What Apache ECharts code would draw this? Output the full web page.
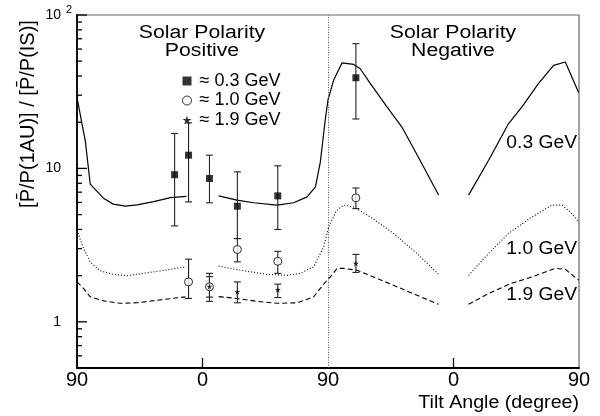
<!DOCTYPE html>
<html><head><meta charset="utf-8">
<script src="https://cdn.jsdelivr.net/npm/echarts@6/dist/echarts.min.js"></script>
<style>html,body{margin:0;padding:0;background:#fff}#c{width:600px;height:416px}</style>
</head><body><div id="c"></div>
<script>
// x axis runs 0..360 (tilt 90 -> 0 -> 90 | 90 -> 0 -> 90)
const xTickValues = [0, 90, 180, 270, 360];
const xTickLabels = ['90', '0', '90', '0', '90'];
const xInnerTicks = [90, 270];
const yMajorTicks = [1, 10, 100];
const yMinorTicks = [0.5, 0.6, 0.7, 0.8, 0.9, 2, 3, 4, 5, 6, 7, 8, 9, 20, 30, 40, 50, 60, 70, 80, 90];

// 0.3 GeV model curve (solid)
const c03_seg1_x = [0, 3.6, 6, 9.5, 19, 26, 34.6, 43, 55, 67, 78.5];
const c03_seg1_y = [29, 19.5, 15, 7.9, 6.4, 5.85, 5.67, 5.78, 6.08, 6.45, 6.58];
const c03_seg2_x = [101.6, 114.7, 126.6, 143.4, 155.4, 165, 171, 174.5, 178, 180, 184, 190, 198.4, 203, 210.3, 222.3, 233, 246, 259.3];
const c03_seg2_y = [6.62, 6.21, 5.97, 5.76, 5.97, 6.52, 7.57, 11, 20.6, 28, 37.5, 48.7, 47.6, 44.8, 35.8, 25.2, 18.6, 11.3, 6.7];
const c03_seg3_x = [280.8, 295.2, 309.5, 319.1, 331, 341.8, 350.2, 353.8, 359.7];
const c03_seg3_y = [6.7, 11.3, 19.6, 25.2, 35.8, 47, 49.4, 41.5, 31.3];

// 1.0 GeV model curve (dotted)
const c10_seg1_x = [0, 4.7, 9.5, 16.7, 26, 36, 47.7, 60, 78.4];
const c10_seg1_y = [3.96, 3.0, 2.46, 2.15, 2.04, 2.0, 2.07, 2.15, 2.28];
const c10_seg2_x = [101.6, 117, 136, 150.6, 160, 169.7, 176.9, 180.5, 186, 191.2, 198.4, 210.3, 227, 243.8, 259.3];
const c10_seg2_y = [2.31, 2.17, 2.04, 2.01, 2.07, 2.28, 3.08, 4.16, 5.3, 5.76, 5.6, 4.83, 3.77, 2.79, 2.04];
const c10_seg3_x = [280.8, 295.2, 309.5, 326.3, 340.6, 347.8, 353.8, 359.7];
const c10_seg3_y = [2.01, 2.79, 3.77, 4.83, 5.76, 5.76, 5.2, 4.48];

// 1.9 GeV model curve (dashed)
const c19_seg1_x = [0, 4.7, 9.5, 19, 31, 43, 57, 77.7];
const c19_seg1_y = [1.82, 1.65, 1.455, 1.37, 1.32, 1.33, 1.38, 1.455];
const c19_seg2_x = [101.6, 114.7, 129, 143.4, 157.8, 169.7, 174.5, 179.3, 181.7, 186.5, 191.2, 200.8, 212.7, 227, 243.8, 259.3];
const c19_seg2_y = [1.46, 1.42, 1.36, 1.32, 1.33, 1.455, 1.65, 1.87, 1.96, 2.23, 2.23, 2.17, 1.96, 1.73, 1.49, 1.30];
const c19_seg3_x = [280.8, 295.2, 311.2, 326.3, 343, 350.2, 359.7];
const c19_seg3_y = [1.30, 1.53, 1.78, 1.96, 2.23, 2.2, 1.87];

// measured points with error bars
const p03_x = [70, 80, 95, 115, 144, 200];
const p03_y = [9.1, 12.2, 8.6, 5.67, 6.62, 39];
const p03_lo = [4.22, 6.05, 5.97, 3.49, 4.0, 21];
const p03_hi = [16.9, 19.8, 12.2, 9.5, 10.4, 65];

const p10_x = [80, 95, 115, 144, 200];
const p10_y = [1.82, 1.69, 2.96, 2.48, 6.43];
const p10_lo = [1.42, 1.36, 2.46, 2.07, 5.47];
const p10_hi = [2.56, 2.07, 3.49, 2.88, 7.45];

const p19_x = [95, 115, 144, 200];
const p19_y = [1.70, 1.57, 1.62, 2.4];
const p19_lo = [1.45, 1.33, 1.44, 2.1];
const p19_hi = [1.97, 1.82, 1.76, 2.75];

const legendNames = ['\u2248 0.3 GeV', '\u2248 1.0 GeV', '\u2248 1.9 GeV'];
const curveLabels = ['0.3 GeV', '1.0 GeV', '1.9 GeV'];

const FONT = 'Liberation Sans, Arial, Helvetica, sans-serif';
const STAR = 'path://M50,0 L61,35 L98,35 L68,57 L79,91 L50,70 L21,91 L32,57 L2,35 L39,35 Z';

function zip(xs, ys) { return xs.map((x, i) => [x, ys[i]]); }
function zip3(xs, a, b) { return xs.map((x, i) => [x, a[i], b[i]]); }

function lineSeries(xs, ys, type) {
  return {
    type: 'line', data: zip(xs, ys), symbol: 'none', silent: true,
    lineStyle: { color: '#000', width: type === 'solid' ? 1.2 : 1.1, type: type },
    z: 2
  };
}

function errSeries(xs, lo, hi) {
  return {
    type: 'custom', data: zip3(xs, lo, hi), encode: { x: 0, y: [1, 2] }, silent: true, z: 3,
    renderItem: function (params, api) {
      const x = api.value(0);
      const p1 = api.coord([x, api.value(1)]);
      const p2 = api.coord([x, api.value(2)]);
      const w = 3.5;
      const st = { stroke: '#222', lineWidth: 1.1 };
      return {
        type: 'group', children: [
          { type: 'line', shape: { x1: p1[0], y1: p1[1], x2: p2[0], y2: p2[1] }, style: st },
          { type: 'line', shape: { x1: p1[0] - w, y1: p1[1], x2: p1[0] + w, y2: p1[1] }, style: st },
          { type: 'line', shape: { x1: p2[0] - w, y1: p2[1], x2: p2[0] + w, y2: p2[1] }, style: st }
        ]
      };
    }
  };
}

// inward axis ticks placed through the axes' own scales
const tickData = []
  .concat(yMajorTicks.map(v => [0, v, 0]))
  .concat(yMinorTicks.map(v => [0, v, 1]))
  .concat(xInnerTicks.map(v => [v, 0.5, 2]));

const tickSeries = {
  type: 'custom', data: tickData, encode: { x: 0, y: 1 }, silent: true, clip: false, z: 10,
  renderItem: function (params, api) {
    const cs = params.coordSys;
    const kind = api.value(2);
    const st = { stroke: '#000', lineWidth: 1.3 };
    if (kind < 2) {
      const p = api.coord([0, api.value(1)]);
      const L = kind === 0 ? 10 : 5;
      return { type: 'line', shape: { x1: cs.x, y1: p[1], x2: cs.x + L, y2: p[1] }, style: st };
    }
    const p = api.coord([api.value(0), 0.5]);
    return { type: 'line', shape: { x1: p[0], y1: cs.y + cs.height, x2: p[0], y2: cs.y + cs.height - 10 }, style: st };
  }
};

const chart = echarts.init(document.getElementById('c'), null, { renderer: 'canvas' });

const series = [
  lineSeries(c03_seg1_x, c03_seg1_y, 'solid'),
  lineSeries(c03_seg2_x, c03_seg2_y, 'solid'),
  lineSeries(c03_seg3_x, c03_seg3_y, 'solid'),
  lineSeries(c10_seg1_x, c10_seg1_y, [1, 2]),
  lineSeries(c10_seg2_x, c10_seg2_y, [1, 2]),
  lineSeries(c10_seg3_x, c10_seg3_y, [1, 2]),
  lineSeries(c19_seg1_x, c19_seg1_y, [5, 3]),
  lineSeries(c19_seg2_x, c19_seg2_y, [5, 3]),
  lineSeries(c19_seg3_x, c19_seg3_y, [5, 3]),
  errSeries(p03_x, p03_lo, p03_hi),
  errSeries(p10_x, p10_lo, p10_hi),
  errSeries(p19_x, p19_lo, p19_hi),
  tickSeries,
  {
    name: legendNames[0], type: 'scatter', data: zip(p03_x, p03_y), symbol: 'rect', symbolSize: 7,
    itemStyle: { color: '#000' }, z: 5,
    markLine: {
      silent: true, symbol: ['none', 'none'], label: { show: false },
      lineStyle: { type: [1, 1.5], color: '#555', width: 1 },
      data: [{ xAxis: 180 }]
    }
  },
  {
    name: legendNames[1], type: 'scatter', data: zip(p10_x, p10_y), symbol: 'circle', symbolSize: 8,
    itemStyle: { color: '#fff', borderColor: '#000', borderWidth: 1 }, z: 5
  },
  {
    name: legendNames[2], type: 'scatter', data: zip(p19_x, p19_y), symbol: STAR, symbolSize: 6,
    itemStyle: { color: '#000' }, z: 6
  }
];

const option = {
  animation: false,
  backgroundColor: '#fff',
  textStyle: { fontFamily: FONT },
  grid: { left: 77, right: 21, top: 15, bottom: 48, show: true, borderColor: '#666', borderWidth: 1.2, containLabel: false },
  legend: {
    orient: 'vertical', left: 177, top: 67, itemWidth: 9, itemHeight: 9, itemGap: 1.5,
    selectedMode: false,
    data: [
      { name: legendNames[0], icon: 'rect' },
      { name: legendNames[1], icon: 'circle', itemStyle: { color: '#fff', borderColor: '#000', borderWidth: 1 } },
      { name: legendNames[2], icon: STAR }
    ],
    textStyle: { fontFamily: FONT, fontSize: 18, color: '#000', padding: [0, 0, 0, 3] }
  },
  xAxis: {
    type: 'value', min: 0, max: 360, interval: 90,
    axisLine: { lineStyle: { color: '#000', width: 1.8 } },
    axisTick: { show: false },
    axisLabel: {
      margin: 2, fontSize: 20, color: '#000', fontFamily: FONT,
      formatter: function (v) { const i = xTickValues.indexOf(v); return i >= 0 ? xTickLabels[i] : ''; }
    },
    splitLine: { show: false }
  },
  yAxis: {
    type: 'log', logBase: 10, min: 0.5, max: 100,
    axisLine: { show: true, lineStyle: { color: '#000', width: 1.8 } },
    axisTick: { show: false },
    axisLabel: {
      customValues: yMajorTicks, margin: 5, color: '#000',
      formatter: function (v) {
        if (Math.abs(v - 100) < 1e-6) return '{n|10}{s|2}';
        if (Math.abs(v - 10) < 1e-6) return '{n|10}{g|}';
        return '{n|1}{g|}';
      },
      rich: {
        n: { fontSize: 14, fontFamily: FONT, color: '#000' },
        s: { fontSize: 11, fontFamily: FONT, color: '#000', width: 9, padding: [0, 0, 10, 2] },
        g: { width: 11 }
      }
    },
    splitLine: { show: false }
  },
  graphic: [
    { type: 'text', x: 202, y: 24, scaleX: 1.18, style: { text: 'Solar Polarity\nPositive', font: '18px ' + FONT, fill: '#000', align: 'center', lineHeight: 18 } },
    { type: 'text', x: 453, y: 24, scaleX: 1.18, style: { text: 'Solar Polarity\nNegative', font: '18px ' + FONT, fill: '#000', align: 'center', lineHeight: 18 } },
    { type: 'text', x: 577, y: 143, scaleX: 1.07, style: { text: curveLabels[0], font: '18px ' + FONT, fill: '#000', align: 'right', verticalAlign: 'middle' } },
    { type: 'text', x: 577, y: 249, scaleX: 1.07, style: { text: curveLabels[1], font: '18px ' + FONT, fill: '#000', align: 'right', verticalAlign: 'middle' } },
    { type: 'text', x: 577, y: 295, scaleX: 1.07, style: { text: curveLabels[2], font: '18px ' + FONT, fill: '#000', align: 'right', verticalAlign: 'middle' } },
    { type: 'text', x: 579, y: 403, scaleX: 1.09, style: { text: 'Tilt Angle (degree)', font: '18px ' + FONT, fill: '#000', align: 'right', verticalAlign: 'middle' } },
    { type: 'text', x: 28, y: 114, rotation: Math.PI / 2, style: { text: '[P\u0304/P(1AU)] / [P\u0304/P(IS)]', font: '20px ' + FONT, fill: '#000', align: 'center', verticalAlign: 'middle' } }
  ],
  series: series
};
chart.setOption(option);
</script>
</body></html>
